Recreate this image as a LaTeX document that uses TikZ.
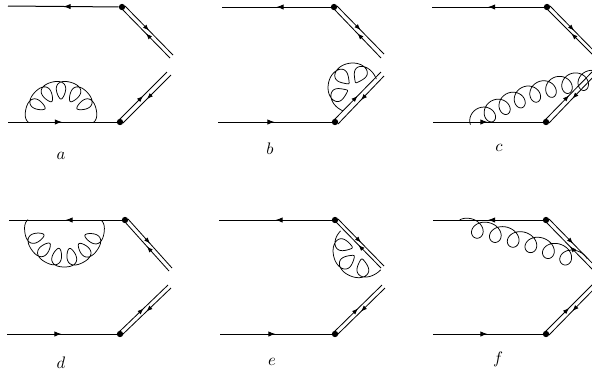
\documentclass[tikz,border=0pt]{standalone}
\usetikzlibrary{arrows.meta,decorations.markings}
\def\gpow{3}
% centre x, centre y, radius, first angle, last angle, loops, depth, t start, t end
\newcommand{\gluon}[9]{%
  \draw[gline] plot[domain=#8:#9,samples=200,variable=\t]
  ({#1+(#3-#7*abs(sin(180*\t))^\gpow)*cos(#4+(#5-#4)/#6*(\t+0.54*sin(360*\t)))},
   {#2-(#3-#7*abs(sin(180*\t))^\gpow)*sin(#4+(#5-#4)/#6*(\t+0.54*sin(360*\t)))});}
\begin{document}
\begin{tikzpicture}[x=0.6pt,y=-0.6pt,>=Stealth]
\tikzstyle{quark}=[line width=0.6pt,postaction={decorate},decoration={markings,mark=at position 0.5 with {\arrow{Latex[length=4.4pt,width=3.2pt]}}}]
\tikzstyle{wline}=[line width=0.5pt,postaction={decorate},decoration={markings,mark=at position 0.5 with {\arrow{Latex[length=3.6pt,width=2.8pt]}}}]
\tikzstyle{vert}=[circle,fill=black,inner sep=0pt,minimum size=3.8pt]
\tikzstyle{gline}=[line width=0.45pt]
\tikzstyle{lab}=[inner sep=0pt,font=\normalsize]
\useasboundingbox (0,0) rectangle (592,373);
\clip (0,0) rectangle (592,373);
% panel a
\node[vert] (at) at (122,7) {};
\node[vert] (ab) at (120,122) {};
\coordinate (al1) at (8,6);
\coordinate (al2) at (8,122);
\draw[quark] (at) -- (al1);
\draw[quark] (al2) -- (ab);
\draw[wline] (125,6) -- (173,55);
\draw[wline] (170,58) -- (122,9);
\draw[wline] (119,120) -- (167,72);
\draw[wline] (171,75) -- (123,123);
\gluon{61}{117}{36}{168}{12}{5}{18}{-0.2}{5.2}
\node[lab] (alab) at (61,156) {$a$};
% panel b
\node[vert] (bt) at (334,7) {};
\node[vert] (bb) at (335,122) {};
\coordinate (bl1) at (222,7);
\coordinate (bl2) at (218,122);
\draw[quark] (bt) -- (bl1);
\draw[quark] (bl2) -- (bb);
\draw[wline] (337,6) -- (384,54);
\draw[wline] (381,58) -- (334,9);
\draw[wline] (334,120) -- (381,72);
\draw[wline] (384,76) -- (338,124);
\gluon{353}{88}{25}{240}{27}{3}{19}{-0.02}{3.02}
\node[lab] (blab) at (270,149) {$b$};
% panel c
\node[vert] (ct) at (547,7) {};
\node[vert] (cb) at (546,122) {};
\coordinate (cl1) at (432,7);
\coordinate (cl2) at (433,122);
\draw[quark] (ct) -- (cl1);
\draw[quark] (cl2) -- (cb);
\draw[wline] (550,6) -- (598,55);
\draw[wline] (596,58) -- (547,9);
\draw[wline] (545,120) -- (593,71);
\draw[wline] (596,74) -- (549,123);
\def\gpow{2}
\gluon{628}{368}{300}{120.3}{97.3}{7}{19}{-0.26}{7.05}
\def\gpow{3}
\node[lab] (clab) at (499,148) {$c$};
% panel d
\node[vert] (dt) at (125,220) {};
\node[vert] (db) at (120,334) {};
\coordinate (dl1) at (9,220);
\coordinate (dl2) at (7,334);
\draw[quark] (dt) -- (dl1);
\draw[quark] (dl2) -- (db);
\draw[wline] (128,219) -- (172,268);
\draw[wline] (169,271) -- (125,222);
\draw[wline] (119,332) -- (168,285);
\draw[wline] (171,288) -- (122,335);
\gluon{64.5}{227}{40}{187}{352}{6}{18}{-0.18}{6.18}
\node[lab] (dlab) at (61,363) {$d$};
% panel e
\node[vert] (et) at (335,220) {};
\node[vert] (eb) at (335,334) {};
\coordinate (el1) at (219,220);
\coordinate (el2) at (220,334);
\draw[quark] (et) -- (el1);
\draw[quark] (el2) -- (eb);
\draw[wline] (338,219) -- (384,266);
\draw[wline] (381,268) -- (336,222);
\draw[wline] (334,332) -- (382,285);
\draw[wline] (385,288) -- (337,335);
\gluon{361}{250}{28}{137}{303}{3}{19}{0}{3.05}
\node[lab] (elab) at (272,362) {$e$};
% panel f
\node[vert] (ft) at (546,220) {};
\node[vert] (fb) at (546,334) {};
\coordinate (fl1) at (433,220);
\coordinate (fl2) at (433,334);
\draw[quark] (ft) -- (fl1);
\draw[quark] (fl2) -- (fb);
\draw[wline] (549,219) -- (597,268);
\draw[wline] (594,271) -- (546,222);
\draw[wline] (545,332) -- (593,284);
\draw[wline] (596,287) -- (549,335);
\def\gpow{2}
\gluon{351}{806.5}{600}{78.5}{67.7}{6}{18}{-0.14}{6.14}
\def\gpow{3}
\node[lab] (flab) at (498,359) {$f$};
\end{tikzpicture}
\end{document}
